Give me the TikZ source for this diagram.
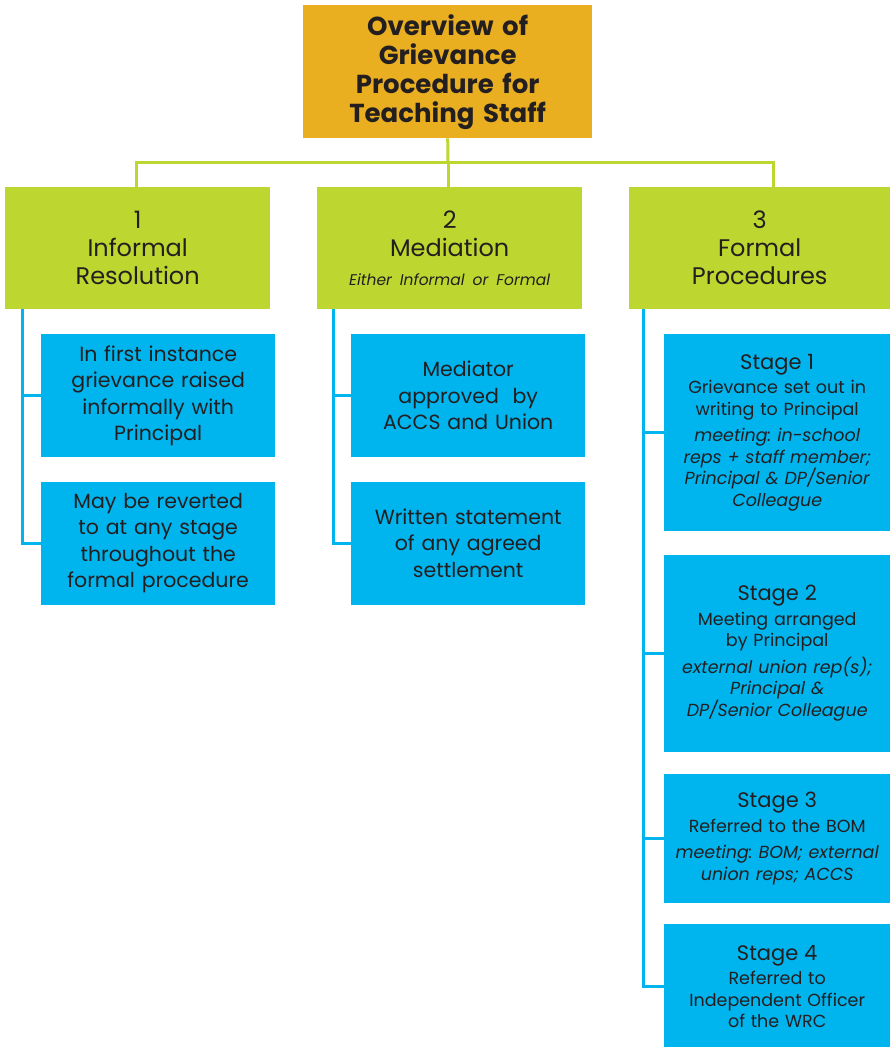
\documentclass[tikz,border=0pt]{standalone}
\usepackage{xcolor}
\usepackage{fontspec}
\setmainfont{Poppins}[ItalicFeatures={WordSpace=0.7}]
\usepackage{tikz}
\usetikzlibrary{positioning}
\frenchspacing
\definecolor{gold}{HTML}{E9AF20}
\definecolor{lime}{HTML}{BDD630}
\definecolor{sky}{HTML}{00B4EE}
\definecolor{ink}{HTML}{231F20}
\tikzstyle{heading} = [rectangle, fill=gold, text=ink, inner sep=0pt, anchor=north west,
    font=\bfseries\fontsize{26}{29}\selectfont, align=center, text width=280pt,
    minimum width=289pt, minimum height=133pt]
\tikzstyle{phase} = [rectangle, fill=lime, text=ink, inner sep=0pt, anchor=north west,
    font=\fontsize{24}{28}\selectfont, align=center, text width=250pt,
    minimum width=265pt, minimum height=122pt]
\tikzstyle{item} = [rectangle, fill=sky, text=ink, inner sep=0pt, anchor=north west,
    font=\fontsize{20.5}{26.5}\selectfont, align=center, text width=228pt,
    minimum width=234pt, minimum height=123pt]
\tikzstyle{stagebox} = [rectangle, fill=sky, text=ink, inner sep=0pt, anchor=north west,
    font=\fontsize{17.5}{21.5}\selectfont, align=center, text width=224pt,
    minimum width=226pt]
\tikzstyle{gline} = [draw, lime, line width=3pt]
\tikzstyle{bline} = [draw, sky, line width=3pt]
\newcommand{\stagehead}[1]{{\fontsize{21}{26}\selectfont #1}\\[3pt]}
\begin{document}
\begin{tikzpicture}[x=1pt, y=-1pt, node distance = 24pt]
      \useasboundingbox (0,0) rectangle (890,1047);
      % Top
      \node [heading] (title) at (303,5) {Overview of\\ Grievance\\ Procedure for\\ Teaching Staff};
      \node [phase] (informal) at (5,187) {1\\ Informal\\ Resolution};
      \node [phase] (mediation) at (317,187) {2\\ Mediation\\[1pt]
          {\fontsize{15.5}{20}\selectfont\itshape Either Informal or Formal}};
      \node [phase, minimum width=261pt] (formal) at (629,187) {3\\ Formal\\ Procedures};
      % Informal and mediation
      \node [item] (first) at (41,334) {In first instance\\ grievance raised\\ informally with\\ Principal};
      \node [item, below= of first] (revert) {May be reverted\\ to at any stage\\ throughout the\\ formal procedure};
      \node [item] (mediator) at (351,334) {Mediator\\ approved~ by\\ ACCS and Union};
      \node [item, below= of mediator] (written) {Written statement\\ of any agreed\\ settlement};
      % Formal stages
      \node [stagebox, minimum height=197pt] (stage1) at (664,334) {\stagehead{Stage 1}
          Grievance set out in\\ writing to Principal\\[5pt]
          {\itshape meeting: in-school\\ reps + staff member;\\ Principal \& DP/Senior\\ Colleague}};
      \node [stagebox, minimum height=197pt, below=23pt of stage1] (stage2) {\stagehead{Stage 2}
          Meeting arranged\\ by Principal\\[5pt]
          {\itshape external union rep(s);\\ Principal \&\\ DP/Senior Colleague}};
      \node [stagebox, minimum height=129pt, below=22pt of stage2] (stage3) {\stagehead{Stage 3}
          Referred to the BOM\\[5pt]
          {\itshape meeting: BOM; external\\ union reps; ACCS}};
      \node [stagebox, minimum height=124pt, below=21pt of stage3] (stage4) {\stagehead{Stage 4}
          Referred to\\ Independent Officer\\ of the WRC};
      % Draw edges
      \coordinate (hub) at (448,162);
      \path [gline] (title.south) -- (hub);
      \path [gline] (hub) -| ([xshift=-1.5pt]informal.north);
      \path [gline] (hub) -- (hub |- mediation.north);
      \path [gline] (hub) -| ([xshift=13.5pt]formal.north);
      \path [bline] ([xshift=17pt]informal.south west) |- (first.west);
      \path [bline] ([xshift=17pt]informal.south west) |- (revert.west);
      \path [bline] ([xshift=16pt]mediation.south west) |- (mediator.west);
      \path [bline] ([xshift=16pt]mediation.south west) |- (written.west);
      \path [bline] ([xshift=14pt]formal.south west) |- (stage1.west);
      \path [bline] ([xshift=14pt]formal.south west) |- (stage2.west);
      \path [bline] ([xshift=14pt]formal.south west) |- (stage3.west);
      \path [bline] ([xshift=14pt]formal.south west) |- (stage4.west);
\end{tikzpicture}
\end{document}
